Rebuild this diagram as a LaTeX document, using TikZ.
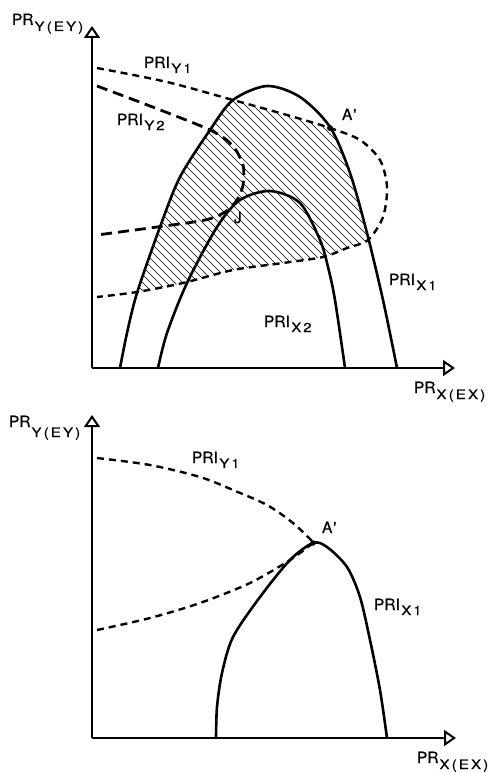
\documentclass[tikz,border=0pt]{standalone}
\usepackage{fontspec}
\setmainfont{TeX Gyre Heros}[FakeBold=0.5]
\usetikzlibrary{arrows.meta}
\newcommand\lbl[2]{{\fontsize{15.5}{15.5}\selectfont #1}\kern1.5pt\raisebox{-5pt}{\fontsize{13}{13}\selectfont\addfontfeature{FakeStretch=1.15,LetterSpace=15}#2}}
\newcommand\axl[3]{{\fontsize{15.5}{15.5}\selectfont #1}\kern1pt\raisebox{#3}{\fontsize{13}{13}\selectfont\addfontfeature{FakeStretch=1.15,LetterSpace=17}#2}}
\tikzset{
 curve/.style={line width=2.6pt, line join=round},
 dsh/.style={line width=2.4pt, dash pattern=on 7pt off 5pt},
 dshlong/.style={line width=2.8pt, dash pattern=on 11pt off 6pt},
 axis/.style={line width=2pt, -{Triangle[open,length=12pt,width=16pt,line width=2pt]}},
 hatch/.style={line width=0.6pt},
 lab/.style={inner sep=0pt, outer sep=0pt, anchor=base west}
}
\begin{document}
\begin{tikzpicture}[x=1pt,y=-1pt]
\useasboundingbox (0,0) rectangle (494,773);
% ---------- top panel ----------
\begin{scope}
\clip plot[smooth] coordinates {(120,368) (127,333) (137,293) (160,227) (180,177) (210,130) (233,100) (267,86) (300,97) (330,127) (350,173) (367,233) (383,300) (397,368)} -- cycle;
\clip plot[smooth] coordinates {(97,68) (167,82) (233,100) (287,115) (330,128) (360,140) (380,160) (387,187) (383,217) (368,240) (347,248) (323,257) (283,263) (233,270) (183,283) (137,292) (97,297)} -- cycle;
\foreach \k in {-220,-212,...,360} \draw[hatch] (\k,0) -- ++(480,480);
\end{scope}
\draw[axis] (92,368) -- (92,26);
\draw[axis] (92,368) -- (455,368);
\draw[curve] plot[smooth] coordinates {(120,368) (127,333) (137,293) (160,227) (180,177) (210,130) (233,100) (267,86) (300,97) (330,127) (350,173) (367,233) (383,300) (397,368)};
\draw[curve] plot[smooth] coordinates {(158,368) (167,333) (187,283) (217,227) (240,200) (270,191) (300,203) (320,240) (328,267) (335,300) (345,368)};
\draw[dsh] plot[smooth] coordinates {(97,68) (167,82) (233,100) (287,115) (330,128) (360,140) (380,160) (387,187) (383,217) (368,240) (347,248) (323,257) (283,263) (233,270) (183,283) (137,292) (97,297)};
\draw[dshlong] plot[smooth] coordinates {(97,86) (150,106) (210,130) (232,145) (243,165) (243,185) (237,200) (225,212) (205,220) (157,227) (97,235)};
\fill (330,128) circle (3pt);
\node[lab] (ty) at (12,25) {\axl{PR}{Y(EY)}{-6pt}};
\node[lab] (tx) at (414,393) {\axl{PR}{X(EX)}{-6pt}};
\node[lab] (ty1) at (144,68) {\lbl{PRI}{Y1}};
\node[lab] (ty2) at (117,125) {\lbl{PRI}{Y2}};
\node[lab] (tx1) at (389,285) {\lbl{PRI}{X1}};
\node[lab] (tx2) at (264,327) {\lbl{PRI}{X2}};
\node[lab] (ta) at (342,120) {\fontsize{15.5}{15.5}\selectfont A\kern1pt\textquotesingle};
\node[lab] (tj) at (234,223) {\fontsize{15.5}{15.5}\selectfont J};
% ---------- bottom panel ----------
\draw[axis] (92,738) -- (92,415);
\draw[axis] (92,738) -- (456,738);
\draw[dsh] plot[smooth] coordinates {(97,458) (150,465) (200,477) (233,490) (267,505) (293,523) (313,542)};
\draw[dsh] plot[smooth] coordinates {(97,630) (150,618) (200,603) (250,583) (290,560) (313,543)};
\draw[curve] plot[smooth] coordinates {(216,738) (217,707) (222,673) (233,637) (260,597) (290,560) (313,543) (327,547) (347,567) (360,597) (370,640) (380,690) (387,738)};
\fill (313,543) circle (2.8pt);
\node[lab] (by) at (9,427) {\axl{PR}{Y(EY)}{-10pt}};
\node[lab] (bx) at (417,763) {\axl{PR}{X(EX)}{-6pt}};
\node[lab] (by1) at (192,463) {\lbl{PRI}{Y1}};
\node[lab] (bx1) at (374,610) {\lbl{PRI}{X1}};
\node[lab] (ba) at (322,533) {\fontsize{15.5}{15.5}\selectfont A\kern1pt\textquotesingle};
\end{tikzpicture}
\end{document}
